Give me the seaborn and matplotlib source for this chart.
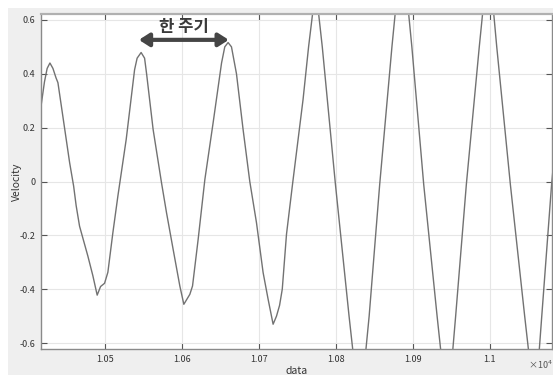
import numpy as np
import pandas as pd
import matplotlib
matplotlib.use("Agg")
import matplotlib.pyplot as plt
from matplotlib.patches import Rectangle
from matplotlib.ticker import FixedLocator, FuncFormatter
import seaborn as sns

# Sampled velocity trace (x in raw data units, y in velocity)
data_x = [
    10417.0, 10421.5, 10425.0, 10428.6, 10432.5, 10436.5, 10439.0, 10445.5,
    10454.2, 10459.4, 10462.7, 10467.1, 10477.9, 10484.4, 10490.0, 10494.4,
    10499.6, 10503.9, 10510.4, 10516.9, 10527.7, 10538.6, 10541.9, 10547.1,
    10551.6, 10554.2, 10562.7, 10573.6, 10580.1, 10588.7, 10597.4, 10602.6,
    10610.4, 10613.9, 10621.2, 10629.9, 10640.6, 10651.6, 10655.8, 10660.1,
    10664.5, 10671.0, 10679.6, 10688.3, 10697.0, 10705.6, 10712.1, 10718.6,
    10723.0, 10727.0, 10730.5, 10736.0, 10743.8, 10757.5, 10764.7, 10774.0,
    10782.5, 10799.6, 10817.3, 10831.2, 10843.4, 10857.1, 10873.0, 10886.0,
    10898.9, 10914.3, 10931.7, 10945.1, 10955.8, 10969.7, 10986.5, 10998.4,
    11009.2, 11026.9, 11045.5, 11058.9, 11067.7, 11080.5, 11085.7,
]
velocity = [
    0.279, 0.370, 0.420, 0.440, 0.420, 0.385, 0.367, 0.240,
    0.070, -0.017, -0.090, -0.166, -0.277, -0.350, -0.422, -0.390,
    -0.378, -0.337, -0.190, -0.054, 0.156, 0.415, 0.458, 0.479,
    0.458, 0.400, 0.193, -0.005, -0.116, -0.252, -0.388, -0.456,
    -0.419, -0.388, -0.215, 0.007, 0.217, 0.440, 0.500, 0.516,
    0.500, 0.400, 0.193, 0.000, -0.153, -0.338, -0.437, -0.530,
    -0.500, -0.460, -0.400, -0.196, -0.011, 0.304, 0.500, 0.720,
    0.500, -0.011, -0.500, -0.860, -0.500, -0.011, 0.500, 0.880,
    0.500, -0.011, -0.500, -0.860, -0.500, -0.011, 0.500, 0.840,
    0.500, -0.011, -0.500, -0.840, -0.500, -0.010, 0.150,
]

x_ticks = [10500, 10600, 10700, 10800, 10900, 11000]
y_ticks = [-0.6, -0.4, -0.2, 0.0, 0.2, 0.4, 0.6]

# one-period marker between two neighbouring peaks
period_start = 10544.2
period_end = 10661.0
period_level = 0.526
period_label = "한 주기"

df = pd.DataFrame({"data": data_x, "Velocity": velocity})

sns.set_theme(style="whitegrid")
plt.rcParams["font.family"] = ["Noto Sans CJK KR", "DejaVu Sans"]

W, H = 553, 375
fig = plt.figure(figsize=(W / 100, H / 100), dpi=100, facecolor="white")
fig.patches.append(Rectangle((8 / W, 0), 1, (H - 8) / H, transform=fig.transFigure,
                             facecolor="#efefef", edgecolor="none", zorder=-10))

ax = fig.add_axes([41 / W, (H - 349) / H, (552 - 41) / W, (349 - 14) / H])
ax.set_facecolor("white")

sns.lineplot(data=df, x="data", y="Velocity", ax=ax, color="#727272",
             linewidth=1.0, sort=False, estimator=None)

ax.set_xlim(10417, 11081)
ax.set_ylim(-0.622, 0.622)

ax.xaxis.set_major_locator(FixedLocator(x_ticks))
ax.yaxis.set_major_locator(FixedLocator(y_ticks))
ax.xaxis.set_major_formatter(FuncFormatter(lambda v, p: f"{v / 1e4:g}"))
ax.yaxis.set_major_formatter(FuncFormatter(lambda v, p: f"{v:g}"))

ax.grid(True, color="#e6e6e6", linewidth=0.8)
for side in ["left", "bottom", "top", "right"]:
    ax.spines[side].set_visible(True)
    ax.spines[side].set_color("#8a8a8a")
    ax.spines[side].set_linewidth(1.0)
ax.spines["top"].set_linewidth(1.6)
ax.spines["top"].set_color("#b0b0b0")

ax.tick_params(axis="both", which="major", direction="in", length=4, width=0.8,
               color="#555555", labelsize=6.5, labelcolor="#333333",
               top=True, right=True, bottom=True, left=True, pad=4)

ax.set_xlabel("data", fontsize=7.5, color="#333333", labelpad=2)
ax.set_ylabel("Velocity", fontsize=7.5, color="#333333")
ax.yaxis.set_label_coords(-0.038, 0.5)

# double-headed arrow spanning one period
ax.annotate("", xy=(period_end, period_level), xytext=(period_start, period_level),
            arrowprops=dict(arrowstyle="<|-|>,head_length=0.5,head_width=0.32",
                            color="#454545", lw=3.0, shrinkA=0, shrinkB=0))
ax.text((period_start + period_end) / 2, 0.574, period_label, ha="center", va="center",
        fontsize=12, fontweight="bold", color="#3a3a3a")

fig.text(528 / W, 1 - 365 / H, "×10$^{4}$", fontsize=6.5, color="#555555",
         ha="left", va="center")

fig.savefig("out.png", dpi=100, facecolor=fig.get_facecolor())
